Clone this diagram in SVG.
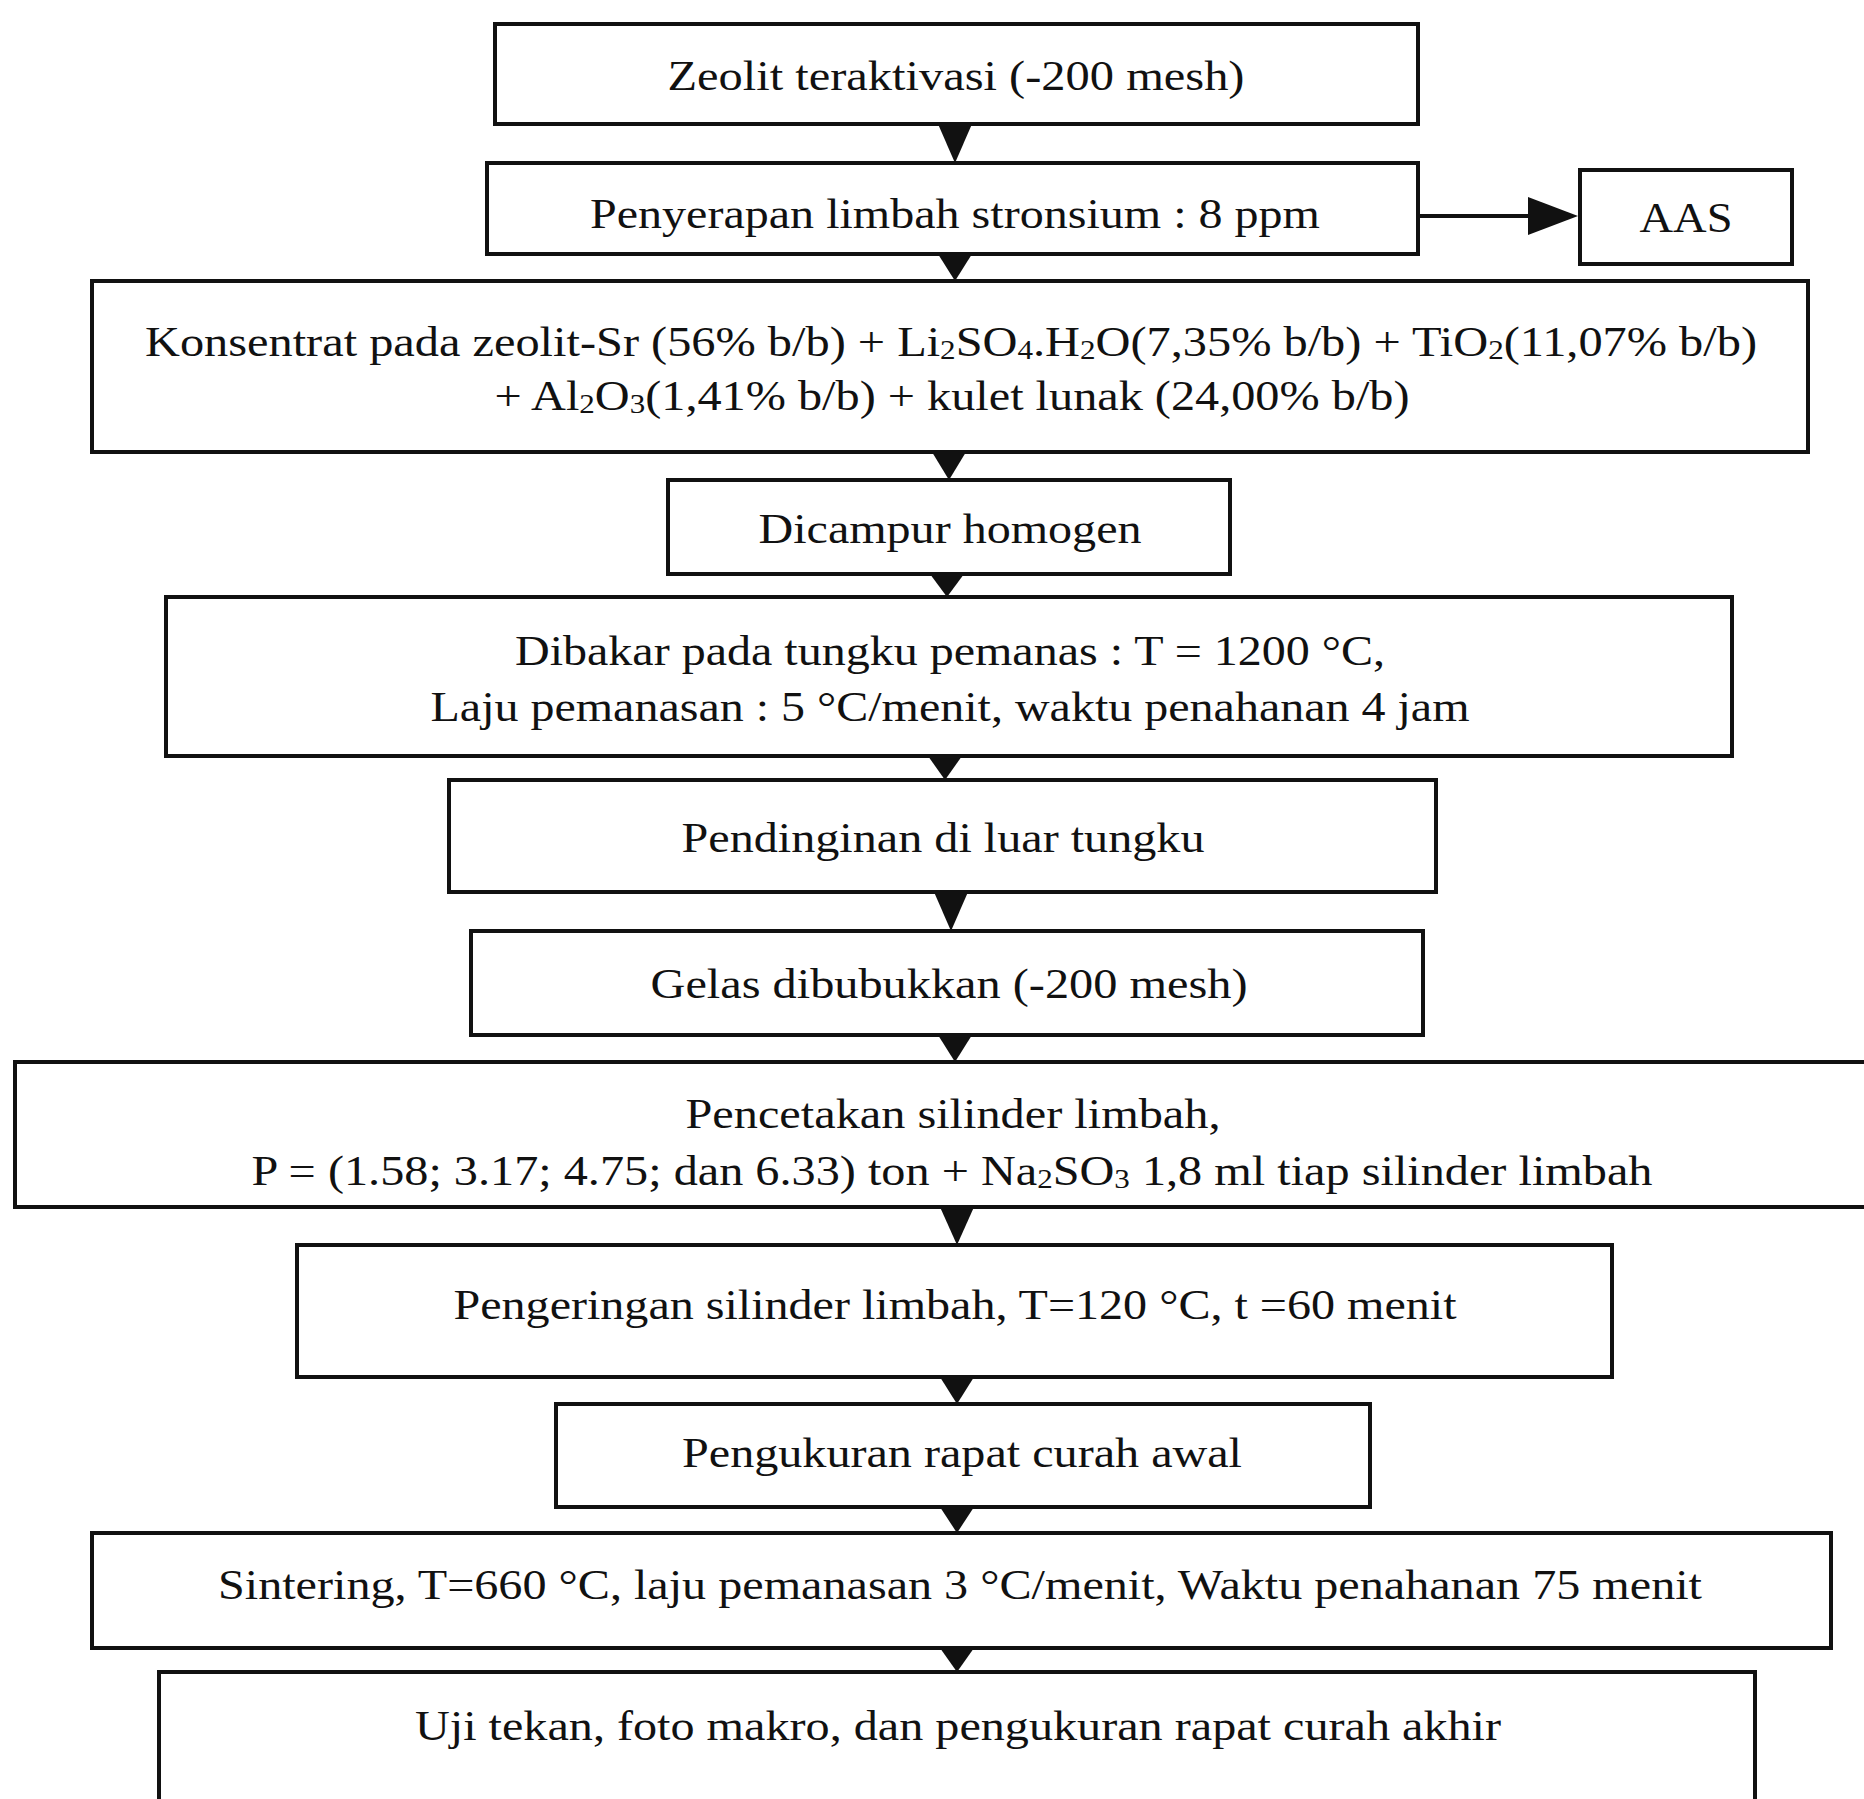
<svg xmlns="http://www.w3.org/2000/svg" width="1864" height="1799" viewBox="0 0 1864 1799">
<style>
.box{fill:#fff;stroke:#111;stroke-width:4}
.t{font-family:"Liberation Serif","Times New Roman",serif;font-size:42px;fill:#111;text-anchor:middle;dominant-baseline:central}
.arr{fill:#111;stroke:none}
.ln{stroke:#111;stroke-width:4;fill:none}
.sub{font-size:27px}
</style>
<rect width="1864" height="1799" fill="#fff"/>
<g id="connectors">
<polygon class="arr" points="938,124 972,124 955,163"/>
<polygon class="arr" points="938,254 972,254 955,281"/>
<polygon class="arr" points="932,452 966,452 949,480"/>
<polygon class="arr" points="930,574 964,574 947,597"/>
<polygon class="arr" points="928,756 962,756 945,780"/>
<polygon class="arr" points="934,892 968,892 951,931"/>
<polygon class="arr" points="938,1035 972,1035 955,1062"/>
<polygon class="arr" points="940,1207 974,1207 957,1245"/>
<polygon class="arr" points="940,1377 974,1377 957,1404"/>
<polygon class="arr" points="940,1507 974,1507 957,1533"/>
<polygon class="arr" points="940,1648 974,1648 957,1672"/>
<line class="ln" x1="1418" y1="216" x2="1532" y2="216"/>
<polygon class="arr" points="1528,197 1578,216 1528,235"/>
</g>
<g id="n1">
<rect class="box" x="495" y="24" width="923" height="100"/>
<text class="t" x="956" y="76" textLength="577" lengthAdjust="spacingAndGlyphs">Zeolit teraktivasi (-200 mesh)</text>
</g>
<g id="n2">
<rect class="box" x="487" y="163" width="931" height="91"/>
<text class="t" x="955" y="214" textLength="730" lengthAdjust="spacingAndGlyphs">Penyerapan limbah stronsium : 8 ppm</text>
</g>
<g id="aas">
<rect class="box" x="1580" y="170" width="212" height="94"/>
<text class="t" x="1686" y="218" textLength="93" lengthAdjust="spacingAndGlyphs">AAS</text>
</g>
<g id="n3">
<rect class="box" x="92" y="281" width="1716" height="171"/>
<text class="t" x="951" y="342" textLength="1612" lengthAdjust="spacingAndGlyphs">Konsentrat pada zeolit-Sr (56% b/b) + Li<tspan class="sub" dy="8">2</tspan><tspan dy="-8">SO</tspan><tspan class="sub" dy="8">4</tspan><tspan dy="-8">.H</tspan><tspan class="sub" dy="8">2</tspan><tspan dy="-8">O(7,35% b/b) + TiO</tspan><tspan class="sub" dy="8">2</tspan><tspan dy="-8">(11,07% b/b)</tspan></text>
<text class="t" x="952" y="396" textLength="915" lengthAdjust="spacingAndGlyphs">+ Al<tspan class="sub" dy="8">2</tspan><tspan dy="-8">O</tspan><tspan class="sub" dy="8">3</tspan><tspan dy="-8">(1,41% b/b) + kulet lunak (24,00% b/b)</tspan></text>
</g>
<g id="n4">
<rect class="box" x="668" y="480" width="562" height="94"/>
<text class="t" x="950" y="529" textLength="383" lengthAdjust="spacingAndGlyphs">Dicampur homogen</text>
</g>
<g id="n5">
<rect class="box" x="166" y="597" width="1566" height="159"/>
<text class="t" x="950" y="651" textLength="870" lengthAdjust="spacingAndGlyphs">Dibakar pada tungku pemanas : T = 1200 °C,</text>
<text class="t" x="950" y="707" textLength="1039" lengthAdjust="spacingAndGlyphs">Laju pemanasan : 5 °C/menit, waktu penahanan 4 jam</text>
</g>
<g id="n6">
<rect class="box" x="449" y="780" width="987" height="112"/>
<text class="t" x="943" y="838" textLength="523" lengthAdjust="spacingAndGlyphs">Pendinginan di luar tungku</text>
</g>
<g id="n7">
<rect class="box" x="471" y="931" width="952" height="104"/>
<text class="t" x="949" y="984" textLength="597" lengthAdjust="spacingAndGlyphs">Gelas dibubukkan (-200 mesh)</text>
</g>
<g id="n8">
<rect class="box" x="15" y="1062" width="1880" height="145"/>
<text class="t" x="953" y="1114" textLength="535" lengthAdjust="spacingAndGlyphs">Pencetakan silinder limbah,</text>
<text class="t" x="952" y="1171" textLength="1401" lengthAdjust="spacingAndGlyphs">P = (1.58; 3.17; 4.75; dan 6.33) ton + Na<tspan class="sub" dy="8">2</tspan><tspan dy="-8">SO</tspan><tspan class="sub" dy="8">3</tspan><tspan dy="-8"> 1,8 ml tiap silinder limbah</tspan></text>
</g>
<g id="n9">
<rect class="box" x="297" y="1245" width="1315" height="132"/>
<text class="t" x="955" y="1305" textLength="1003" lengthAdjust="spacingAndGlyphs">Pengeringan silinder limbah, T=120 °C, t =60 menit</text>
</g>
<g id="n10">
<rect class="box" x="556" y="1404" width="814" height="103"/>
<text class="t" x="962" y="1453" textLength="560" lengthAdjust="spacingAndGlyphs">Pengukuran rapat curah awal</text>
</g>
<g id="n11">
<rect class="box" x="92" y="1533" width="1739" height="115"/>
<text class="t" x="960" y="1585" textLength="1484" lengthAdjust="spacingAndGlyphs">Sintering, T=660 °C, laju pemanasan 3 °C/menit, Waktu penahanan 75 menit</text>
</g>
<g id="n12">
<rect class="box" x="159" y="1672" width="1596" height="150"/>
<text class="t" x="958" y="1726" textLength="1086" lengthAdjust="spacingAndGlyphs">Uji tekan, foto makro, dan pengukuran rapat curah akhir</text>
</g>
</svg>
